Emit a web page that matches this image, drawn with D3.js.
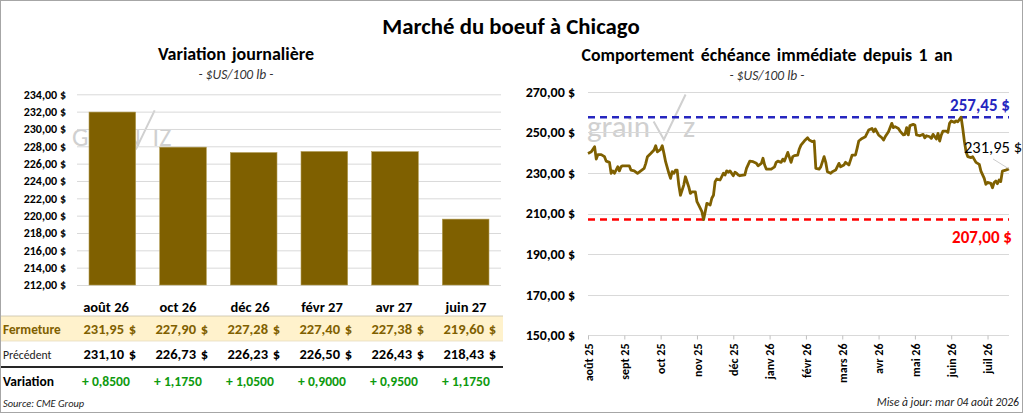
<!DOCTYPE html>
<html>
<head>
<meta charset="utf-8">
<script src="https://cdn.jsdelivr.net/npm/d3@7/dist/d3.min.js"></script>
<style>
  body { margin: 0; background: #fff; }
  svg { display: block; font-family: Carlito, Calibri, Lato, sans-serif; }
</style>
</head>
<body>
<div id="chart"></div>
<script>
var w = 1024;
var h = 414;

// contracts (left chart + table)
var contracts = ['août 26', 'oct 26', 'déc 26', 'févr 27', 'avr 27', 'juin 27'];
var closing = [231.95, 227.90, 227.28, 227.40, 227.38, 219.60];
var previous = [231.10, 226.73, 226.23, 226.50, 226.43, 218.43];
var change = [0.8500, 1.1750, 1.0500, 0.9000, 0.9500, 1.1750];
var barTicks = [212, 214, 216, 218, 220, 222, 224, 226, 228, 230, 232, 234];

// front month over one year (trading day index, close)
var dayIndex = [0, 2, 4, 5, 6, 8, 10, 11, 13, 14, 15, 16, 18, 19, 20, 21, 25, 26, 28, 30,
  32, 34, 35, 36, 38, 40, 41, 42, 44, 45, 46, 47, 49, 50, 51, 52, 53, 54, 55, 56,
  58, 59, 61, 62, 63, 65, 66, 67, 69, 70, 71, 72, 74, 75, 76, 77, 78, 80, 82, 83,
  84, 85, 86, 88, 89, 90, 91, 92, 95, 96, 98, 100, 102, 103, 105, 106, 107, 108, 111, 113,
  114, 115, 117, 118, 119, 121, 123, 124, 125, 127, 128, 129, 131, 133, 134, 136, 137, 138, 140, 141,
  143, 144, 145, 147, 148, 150, 152, 153, 155, 156, 158, 159, 160, 162, 163, 164, 166, 168, 169, 170,
  172, 173, 174, 176, 178, 179, 180, 182, 184, 185, 186, 188, 189, 191, 192, 193, 194, 195, 197, 198,
  199, 201, 203, 204, 205, 207, 208, 209, 211, 212, 213, 214, 215, 217, 218, 219, 220, 222, 223, 224,
  226, 227, 228, 229, 230, 232, 233, 235, 237, 238, 240, 241, 242, 244, 245, 246, 247, 248, 249, 250,
  251, 253, 255];
var closePrices = [239.6, 240.4, 242.9, 236.8, 239.0, 239.0, 238.0, 235.8, 235.2, 229.8, 231.0, 229.8, 233.0, 231.0, 233.0, 233.5, 233.5, 231.4, 231.0, 229.8,
  231.0, 232.2, 234.7, 238.0, 239.6, 241.3, 243.4, 240.4, 241.6, 243.4, 239.6, 235.5, 229.8, 227.3, 230.6, 229.8, 231.4, 231.4, 224.0, 219.0,
  224.0, 228.1, 223.2, 219.9, 220.7, 220.7, 215.8, 214.2, 210.9, 207.0, 210.9, 215.0, 214.2, 217.5, 219.0, 225.7, 227.0, 226.5, 229.8, 229.0,
  231.0, 230.3, 231.0, 228.6, 230.3, 229.8, 229.0, 228.6, 229.0, 232.2, 235.8, 235.5, 234.7, 233.5, 234.7, 237.2, 233.9, 231.9, 231.9, 233.0,
  235.2, 235.8, 235.2, 236.8, 235.8, 240.1, 235.2, 238.0, 238.5, 238.8, 241.8, 243.7, 245.7, 247.3, 246.2, 245.4, 245.7, 232.2, 231.9, 233.0,
  238.0, 235.2, 230.6, 229.8, 230.6, 231.4, 234.7, 233.0, 233.9, 235.2, 233.9, 236.3, 238.8, 238.8, 242.1, 245.7, 247.0, 247.8, 249.5, 251.1,
  251.9, 250.3, 251.6, 248.7, 247.3, 246.2, 247.8, 250.3, 254.4, 252.3, 252.8, 251.9, 250.6, 248.7, 249.0, 252.3, 248.7, 253.3, 253.9, 253.6,
  248.7, 248.3, 249.0, 247.3, 248.3, 247.8, 247.0, 249.0, 246.7, 249.5, 245.7, 248.7, 250.6, 250.6, 250.0, 254.4, 255.6, 254.9, 255.6, 255.2,
  257.45, 251.9, 245.4, 240.4, 238.0, 237.5, 238.0, 235.2, 234.2, 230.9, 227.3, 224.4, 225.3, 224.8, 222.7, 225.3, 226.0, 224.7, 226.5, 225.7,
  230.9, 231.4, 231.95];
var yearHigh = 257.45;
var yearLow = 207.00;
var lineTicks = [150, 170, 190, 210, 230, 250, 270];
var monthTickIdx = [0, 22, 44, 66, 88, 110, 132, 154, 176, 198, 220, 242];
var monthLabels = ['août 25', 'sept 25', 'oct 25', 'nov 25', 'déc 25', 'janv 26', 'févr 26',
  'mars 26', 'avr 26', 'mai 26', 'juin 26', 'juil 26'];

var gold = '#7f6000';
var grid = '#d9d9d9';
var font = 'Carlito, Calibri, Lato, sans-serif';

var fr = d3.formatLocale({decimal: ',', thousands: '\u00a0', grouping: [3], currency: ['', '\u00a0$']});
var money = fr.format('$,.2f');
var num2 = fr.format(',.2f');
var num4 = fr.format('.4f');

var svg = d3.select('#chart').append('svg')
  .attr('width', w)
  .attr('height', h);

svg.append('rect')
  .attr('x', 0.5).attr('y', 0.5)
  .attr('width', w - 2).attr('height', h - 2)
  .attr('fill', '#fff')
  .attr('stroke', '#a6a6a6');

// titles
svg.append('text')
  .attr('x', 511).attr('y', 34)
  .attr('text-anchor', 'middle')
  .attr('font-size', 22.8).attr('font-weight', 'bold')
  .text('Marché du boeuf à Chicago');

function subTitle(x, y, title, size, spacing) {
  svg.append('text')
    .attr('x', x).attr('y', y)
    .attr('text-anchor', 'middle')
    .attr('font-size', size).attr('font-weight', 'bold')
    .attr('word-spacing', spacing)
    .text(title);
  svg.append('text')
    .attr('x', x).attr('y', y + 19)
    .attr('text-anchor', 'middle')
    .attr('font-size', 13.5).attr('font-style', 'italic')
    .attr('fill', '#333')
    .text('- $US/100 lb -');
}
subTitle(236, 60, 'Variation journalière', 18, 2);
subTitle(767, 61, 'Comportement échéance immédiate depuis 1 an', 17.8, 2.5);

// watermark
function logo(x, y, size, word, tail) {
  var g = svg.append('g').attr('fill', 'none').attr('stroke', '#d0d0d0');
  g.append('text')
    .attr('x', x).attr('y', y)
    .attr('font-size', size).attr('font-weight', 300)
    .attr('fill', '#d0d0d0').attr('stroke', 'none')
    .text(word);
  var len = word.length * size * 0.43;
  g.append('path')
    .attr('stroke-width', 2)
    .attr('d', 'M' + (x + len) + ',' + (y - size * 0.5) + ' l' + (size * 0.33) + ',' + (size * 0.58)
      + ' l' + (size * 0.7) + ',' + (-size * 1.45));
  g.append('text')
    .attr('x', x + len + size * 0.95).attr('y', y)
    .attr('font-size', size).attr('font-weight', 300)
    .attr('fill', '#d0d0d0').attr('stroke', 'none')
    .text(tail);
}
logo(72, 146, 26, 'GRAIN', 'IZ');
logo(587, 137, 31, 'grain', 'z');

// ---------- left: bars ----------
var xBar = d3.scaleBand()
  .domain(contracts)
  .range([77, 501])
  .paddingInner(0.34)
  .paddingOuter(0.17);

var yBar = d3.scaleLinear()
  .domain([212, 234])
  .range([285, 94.3]);

svg.append('g').selectAll('line')
  .data(barTicks)
  .enter().append('line')
  .attr('x1', 77).attr('x2', 501)
  .attr('y1', function(d) { return yBar(d) + 0.5; })
  .attr('y2', function(d) { return yBar(d) + 0.5; })
  .attr('stroke', grid);

var yAxisBar = svg.append('g')
  .attr('transform', 'translate(77,0)')
  .call(d3.axisLeft(yBar).tickValues(barTicks).tickSize(0).tickPadding(11).tickFormat(money));
yAxisBar.select('.domain').remove();
yAxisBar.selectAll('text')
  .attr('font-size', 12).attr('font-weight', 'bold')
  .attr('font-family', font)
  .attr('fill', '#000');

svg.append('g').selectAll('rect')
  .data(closing)
  .enter().append('rect')
  .attr('x', function(d, i) { return xBar(contracts[i]); })
  .attr('y', function(d) { return yBar(d); })
  .attr('width', xBar.bandwidth())
  .attr('height', function(d) { return yBar(212) - yBar(d); })
  .attr('fill', gold)
  .attr('stroke', '#b09a50')
  .attr('stroke-width', 0.6);

// ---------- table ----------
var xTab = d3.scaleBand()
  .domain(contracts)
  .range([68, 500]);
function colMid(i) { return xTab(contracts[i]) + xTab.bandwidth() / 2; }

svg.append('rect')
  .attr('x', 1).attr('y', 316)
  .attr('width', 502).attr('height', 25)
  .attr('fill', '#fff2cc');
svg.append('line')
  .attr('x1', 1).attr('x2', 503).attr('y1', 316).attr('y2', 316)
  .attr('stroke', '#c8c0a8').attr('stroke-width', 0.8);
svg.append('line')
  .attr('x1', 1).attr('x2', 503).attr('y1', 341).attr('y2', 341)
  .attr('stroke', '#e6dcc0').attr('stroke-width', 0.8);
svg.append('line')
  .attr('x1', 1).attr('x2', 503).attr('y1', 367).attr('y2', 367)
  .attr('stroke', '#262626').attr('stroke-width', 2);

svg.append('g').selectAll('text')
  .data(contracts)
  .enter().append('text')
  .attr('x', function(d, i) { return colMid(i) + 2; })
  .attr('y', 312)
  .attr('text-anchor', 'middle')
  .attr('font-size', 14.5).attr('font-weight', 'bold')
  .text(function(d) { return d; });

function moneyRow(values, y, color) {
  var g = svg.append('g').attr('font-size', 14.5).attr('font-weight', 'bold').attr('fill', color);
  g.selectAll('text.v')
    .data(values)
    .enter().append('text')
    .attr('class', 'v')
    .attr('x', function(d, i) { return colMid(i) + 20; })
    .attr('y', y)
    .attr('text-anchor', 'end')
    .text(function(d) { return num2(d); });
  g.selectAll('text.c')
    .data(values)
    .enter().append('text')
    .attr('class', 'c')
    .attr('x', function(d, i) { return colMid(i) + 32; })
    .attr('y', y)
    .attr('text-anchor', 'end')
    .text('$');
}
moneyRow(closing, 334, gold);
moneyRow(previous, 359, '#000');

svg.append('g').selectAll('text')
  .data(change)
  .enter().append('text')
  .attr('x', function(d, i) { return colMid(i) + 2; })
  .attr('y', 386)
  .attr('text-anchor', 'middle')
  .attr('font-size', 13.6).attr('font-weight', 'bold')
  .attr('fill', '#0e9a0e')
  .text(function(d) { return '+ ' + num4(d); });

svg.append('text').attr('x', 3).attr('y', 334)
  .attr('font-size', 13.3).attr('font-weight', 'bold').attr('fill', gold)
  .text('Fermeture');
svg.append('text').attr('x', 3).attr('y', 359)
  .attr('font-size', 11.7).attr('fill', '#222')
  .text('Précédent');
svg.append('text').attr('x', 3).attr('y', 386)
  .attr('font-size', 13.5).attr('font-weight', 'bold')
  .text('Variation');
svg.append('text').attr('x', 3).attr('y', 407)
  .attr('font-size', 10.4).attr('font-style', 'italic').attr('fill', '#222')
  .text('Source: CME Group');

// ---------- right: line ----------
var xLine = d3.scaleLinear()
  .domain([0, 255])
  .range([588, 1009]);

var yLine = d3.scaleLinear()
  .domain([150, 270])
  .range([335.3, 91.7]);

svg.append('g').selectAll('line')
  .data(lineTicks)
  .enter().append('line')
  .attr('x1', 588).attr('x2', 1009)
  .attr('y1', function(d) { return Math.round(yLine(d)) + 0.5; })
  .attr('y2', function(d) { return Math.round(yLine(d)) + 0.5; })
  .attr('stroke', grid);

var yAxisLine = svg.append('g')
  .attr('transform', 'translate(588,0)')
  .call(d3.axisLeft(yLine).tickValues(lineTicks).tickSize(0).tickPadding(13).tickFormat(money));
yAxisLine.select('.domain').remove();
yAxisLine.selectAll('text')
  .attr('font-size', 14).attr('font-weight', 'bold')
  .attr('font-family', font)
  .attr('fill', '#000');

var xAxisLine = svg.append('g')
  .attr('transform', 'translate(0,' + (Math.round(yLine(150)) + 0.5) + ')')
  .call(d3.axisBottom(xLine).tickValues(monthTickIdx).tickSize(4).tickPadding(6)
    .tickFormat(function(d, i) { return monthLabels[i]; }));
xAxisLine.select('.domain').remove();
xAxisLine.selectAll('line').attr('stroke', '#bfbfbf');
xAxisLine.selectAll('text')
  .attr('font-size', 12).attr('font-weight', 'bold')
  .attr('font-family', font)
  .attr('fill', '#000')
  .attr('text-anchor', 'end')
  .attr('transform', 'rotate(-90)')
  .attr('x', -8).attr('y', 0).attr('dy', '0.35em');

function refLine(value, color) {
  svg.append('line')
    .attr('x1', 588).attr('x2', 1009)
    .attr('y1', yLine(value)).attr('y2', yLine(value))
    .attr('stroke', color).attr('stroke-width', 2.5)
    .attr('stroke-dasharray', '7,5');
}
refLine(yearHigh, '#2626bf');
refLine(yearLow, '#ff0000');

var line = d3.line()
  .x(function(d, i) { return xLine(dayIndex[i]); })
  .y(function(d) { return yLine(d); });

svg.append('path')
  .datum(closePrices)
  .attr('d', line)
  .attr('fill', 'none')
  .attr('stroke', gold)
  .attr('stroke-width', 2.8)
  .attr('stroke-linejoin', 'round');

svg.append('text')
  .attr('x', 1010).attr('y', yLine(yearHigh) - 6)
  .attr('text-anchor', 'end')
  .attr('font-size', 17).attr('font-weight', 'bold')
  .attr('fill', '#2626bf')
  .text(money(yearHigh));
svg.append('text')
  .attr('x', 1012).attr('y', yLine(yearLow) + 23)
  .attr('text-anchor', 'end')
  .attr('font-size', 17).attr('font-weight', 'bold')
  .attr('fill', '#ff0000')
  .text(money(yearLow));

var lastI = closePrices.length - 1;
var lastX = xLine(dayIndex[lastI]);
var lastY = yLine(closePrices[lastI]);
svg.append('line')
  .attr('x1', lastX - 16).attr('y1', lastY - 10)
  .attr('x2', lastX).attr('y2', lastY)
  .attr('stroke', '#bfbfbf').attr('stroke-width', 0.8);
svg.append('text')
  .attr('x', lastX + 13).attr('y', lastY - 16)
  .attr('text-anchor', 'end')
  .attr('font-size', 16.5)
  .attr('fill', '#000')
  .text(money(closePrices[lastI]));

svg.append('text')
  .attr('x', 1019).attr('y', 406)
  .attr('text-anchor', 'end')
  .attr('font-size', 11.6).attr('font-style', 'italic').attr('fill', '#222')
  .text('Mise à jour: mar 04 août 2026');
</script>
</body>
</html>
